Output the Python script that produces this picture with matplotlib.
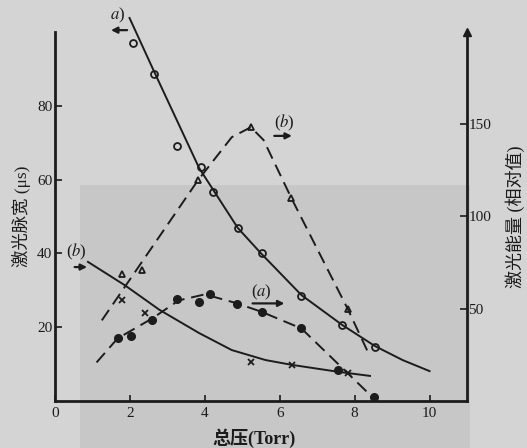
import matplotlib.pyplot as plt
from matplotlib.patches import Rectangle

plt.rcParams['font.family'] = ['Liberation Serif', 'Noto Sans CJK SC']
plt.rcParams['mathtext.fontset'] = 'stix'

# curve (a), pulse width, open circles (left axis)
p_a_open = [2.07, 2.65, 3.26, 3.90, 4.22, 4.88, 5.52, 6.58, 7.67, 8.54]
width_a = [97, 88.6, 69, 63.4, 56.6, 46.9, 40.1, 28.5, 20.6, 14.6]
line_a_x = [1.99, 2.65, 3.85, 4.88, 5.52, 6.58, 7.67, 8.54, 9.28, 10.0]
line_a_y = [103.8, 89.2, 63.1, 46.9, 39.8, 28.7, 20.6, 14.9, 11.1, 8.1]

# curve (b), pulse width, crosses (left axis)
p_b_x = [1.80, 2.39, 5.22, 6.32, 7.83]
width_b = [27.4, 23.8, 10.6, 9.8, 7.6]
line_b_x = [0.88, 1.86, 2.79, 3.85, 4.72, 5.62, 6.32, 7.57, 8.41]
line_b_y = [37.7, 31.4, 24.7, 18.4, 13.8, 11.1, 9.8, 7.9, 6.8]

# curve (b), energy, triangles (right axis)
p_b_tri = [1.80, 2.31, 3.82, 5.23, 6.31, 7.82]
energy_b = [69, 71, 120, 148.4, 110, 49.7]
dash_b_x = [1.25, 3.82, 4.72, 5.23, 5.57, 6.31, 7.82, 8.36]
dash_b_y = [43.7, 119.7, 143, 148.4, 141.4, 110, 49.7, 26.3]

# curve (a), energy, filled circles (right axis)
p_a_fill = [1.67, 2.02, 2.60, 3.26, 3.85, 4.14, 4.85, 5.52, 6.58, 7.56, 8.51]
energy_a = [33.9, 35.0, 43.7, 55.1, 53.5, 57.8, 52.4, 48.0, 39.3, 16.6, 1.9]
dash_a_x = [1.11, 1.67, 2.6, 3.3, 4.0, 4.85, 5.52, 6.58, 8.51]
dash_a_y = [20.9, 33.9, 44.8, 54.5, 57.8, 53.0, 48.3, 39.3, 1.4]

x_ticks = [0, 2, 4, 6, 8, 10]
left_ticks = [20, 40, 60, 80]
right_ticks = [50, 100, 150]

ink = "#1c1c1c"
dash = (0, (6.5, 3.5))

fig = plt.figure(figsize=(5.27, 4.48), dpi=100)
fig.patch.set_facecolor("#d4d4d4")
fig.patches.append(Rectangle((80 / 527, 0), 390 / 527, 263 / 448, transform=fig.transFigure,
                             facecolor="#c7c7c7", edgecolor="none", zorder=-10))

ax = fig.add_axes([55 / 527, 47 / 448, 412 / 527, 369 / 448])
ax.set_facecolor("none")
ax2 = ax.twinx()

ax.plot(line_a_x, line_a_y, color=ink, lw=1.4, clip_on=False)
ax.plot(p_a_open, width_a, "o", ms=5, mfc="none", mec=ink, mew=1.3, clip_on=False)
ax.plot(line_b_x, line_b_y, color=ink, lw=1.4)
ax.plot(p_b_x, width_b, "x", ms=4.5, mec=ink, mew=1.3)

ax2.plot(dash_b_x, dash_b_y, color=ink, lw=1.4, linestyle=dash)
ax2.plot(p_b_tri, energy_b, "^", ms=5, mfc="none", mec=ink, mew=1.3)
ax2.plot(dash_a_x, dash_a_y, color=ink, lw=1.4, linestyle=dash)
ax2.plot(p_a_fill, energy_a, "o", ms=5.5, color=ink)

ax.set_xlim(0, 11)
ax.set_ylim(0, 100)
ax2.set_ylim(0, 200)

for a in (ax, ax2):
    for s in a.spines.values():
        s.set_visible(False)
ax.spines["left"].set_visible(True)
ax.spines["bottom"].set_visible(True)
ax2.spines["right"].set_visible(True)
for s in (ax.spines["left"], ax.spines["bottom"], ax2.spines["right"]):
    s.set_linewidth(2.0)
    s.set_color(ink)
ax2.plot([1], [1], "^", ms=6, color=ink, transform=ax2.transAxes, clip_on=False)

ax.set_xticks(x_ticks)
ax.set_yticks(left_ticks)
ax2.set_yticks(right_ticks)
ax.tick_params(axis="x", direction="in", length=4, width=1.2, pad=4, labelsize=11, colors=ink)
ax.tick_params(axis="y", direction="in", length=5, width=1.2, pad=2, labelsize=11, colors=ink)
ax2.tick_params(axis="y", direction="in", length=5, width=1.2, pad=1, labelsize=11, colors=ink)

ax.set_ylabel("激光脉宽 (μs)", fontsize=12.5, labelpad=4, color=ink)
ax2.set_ylabel("激光能量 (相对值)", fontsize=13, labelpad=10, color=ink)
fig.text(254 / 527, 10 / 448, "总压(Torr)", ha="center", va="center", fontsize=13,
         fontweight="bold", color=ink)

arrow = dict(arrowstyle="-|>", color=ink, lw=1.6, mutation_scale=9)
ax.text(0.30, 40.5, "($b$)", fontsize=12, va="center", color=ink)
ax.annotate("", xy=(0.93, 36.3), xytext=(0.45, 36.3), arrowprops=arrow)
ax.text(1.46, 104.6, "$a$)", fontsize=12, va="center", color=ink, clip_on=False)
ax.annotate("", xy=(1.42, 100.5), xytext=(2.0, 100.5), arrowprops=arrow, annotation_clip=False)
ax2.text(6.13, 151, "($b$)", fontsize=12, ha="center", va="center", color=ink)
ax2.annotate("", xy=(6.4, 143.7), xytext=(5.78, 143.7), arrowprops=arrow)
ax2.text(5.52, 59, "($a$)", fontsize=12, ha="center", va="center", color=ink)
ax2.annotate("", xy=(6.2, 52.9), xytext=(5.2, 52.9), arrowprops=arrow)

fig.savefig("out.png", dpi=100, facecolor=fig.get_facecolor())
